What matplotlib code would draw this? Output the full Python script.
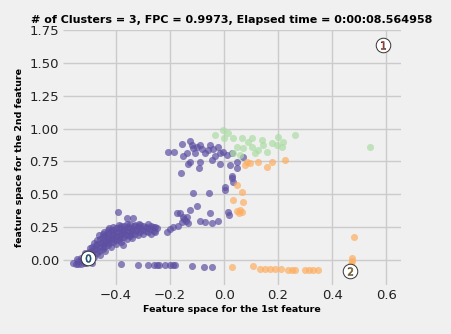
import matplotlib
matplotlib.use('Agg')
import matplotlib.pyplot as plt
import numpy as np

plt.style.use('fivethirtyeight')

# cluster 0 (purple) - dense band + scattered points
c0_pts = [
    (-0.56, -0.02), (-0.55, -0.03), (-0.53, -0.03), (-0.51, -0.025), (-0.49, -0.02),
    (-0.54, -0.03), (-0.54, -0.01), (-0.545, 0.01),
    (-0.52, -0.02), (-0.525, 0.0), (-0.52, 0.03), (-0.515, 0.05),
    (-0.50, 0.0), (-0.505, 0.03), (-0.50, 0.06), (-0.495, 0.09),
    (-0.48, 0.02), (-0.485, 0.05), (-0.48, 0.08), (-0.475, 0.11), (-0.48, 0.13),
    (-0.46, 0.04), (-0.465, 0.07), (-0.46, 0.10), (-0.455, 0.13), (-0.46, 0.16), (-0.465, 0.19),
    (-0.44, 0.07), (-0.445, 0.10), (-0.44, 0.13), (-0.435, 0.16), (-0.44, 0.19), (-0.445, 0.21),
    (-0.42, 0.10), (-0.425, 0.13), (-0.42, 0.16), (-0.415, 0.19), (-0.42, 0.22), (-0.425, 0.24),
    (-0.40, 0.12), (-0.405, 0.15), (-0.40, 0.18), (-0.395, 0.21), (-0.40, 0.24),
    (-0.38, 0.14), (-0.385, 0.17), (-0.38, 0.20), (-0.375, 0.23), (-0.38, 0.26),
    (-0.36, 0.16), (-0.365, 0.19), (-0.36, 0.22), (-0.355, 0.25), (-0.36, 0.27),
    (-0.34, 0.17), (-0.345, 0.20), (-0.34, 0.23), (-0.335, 0.26),
    (-0.32, 0.19), (-0.325, 0.22), (-0.32, 0.25), (-0.315, 0.27),
    (-0.30, 0.20), (-0.305, 0.23), (-0.30, 0.26),
    (-0.28, 0.21), (-0.285, 0.24), (-0.28, 0.27),
    (-0.26, 0.22), (-0.265, 0.25),
    # in-between band points
    (-0.53, 0.015), (-0.51, 0.015), (-0.51, 0.045), (-0.49, 0.035), (-0.49, 0.065),
    (-0.49, 0.10), (-0.47, 0.055), (-0.47, 0.085), (-0.47, 0.12), (-0.47, 0.15),
    (-0.45, 0.085), (-0.45, 0.115), (-0.45, 0.145), (-0.45, 0.175), (-0.45, 0.20),
    (-0.43, 0.115), (-0.43, 0.145), (-0.43, 0.175), (-0.43, 0.205), (-0.43, 0.225),
    (-0.41, 0.135), (-0.41, 0.165), (-0.41, 0.195), (-0.41, 0.225), (-0.41, 0.25),
    (-0.39, 0.155), (-0.39, 0.185), (-0.39, 0.215), (-0.39, 0.245), (-0.39, 0.265),
    (-0.37, 0.175), (-0.37, 0.205), (-0.37, 0.235), (-0.37, 0.26),
    (-0.35, 0.185), (-0.35, 0.215), (-0.35, 0.245), (-0.35, 0.27),
    (-0.33, 0.20), (-0.33, 0.235), (-0.33, 0.265),
    (-0.31, 0.21), (-0.31, 0.24), (-0.31, 0.265),
    (-0.29, 0.22), (-0.29, 0.25), (-0.27, 0.235), (-0.27, 0.26), (-0.25, 0.24),
    # outliers near band
    (-0.393, 0.365), (-0.36, 0.32), (-0.337, 0.32), (-0.374, 0.114), (-0.27, 0.20),
    # bottom row
    (-0.38, -0.03), (-0.32, -0.035), (-0.28, -0.04), (-0.26, -0.04), (-0.25, -0.04),
    (-0.24, -0.04), (-0.22, -0.04), (-0.20, -0.04), (-0.19, -0.04), (-0.18, -0.04),
    (-0.12, -0.045), (-0.075, -0.05), (-0.045, -0.05),
    # rising middle part
    (-0.256, 0.251), (-0.256, 0.213), (-0.211, 0.213), (-0.20, 0.236), (-0.189, 0.251),
    (-0.174, 0.358), (-0.163, 0.358), (-0.152, 0.327), (-0.155, 0.289), (-0.137, 0.327),
    (-0.133, 0.282), (-0.126, 0.38), (-0.10, 0.41), (-0.115, 0.51), (-0.056, 0.51),
    (-0.052, 0.358), (-0.089, 0.297), (-0.07, 0.289), (-0.044, 0.282), (-0.022, 0.297),
    (0.004, 0.556), (0.004, 0.53), (0.015, 0.365), (0.018, 0.345), (0.033, 0.594),
    (-0.14, 0.30), (-0.17, 0.26), (-0.15, 0.31),
    # upper group
    (-0.207, 0.822), (-0.185, 0.822), (-0.156, 0.883), (-0.126, 0.906), (-0.119, 0.875),
    (-0.115, 0.852), (-0.137, 0.814), (-0.152, 0.792), (-0.107, 0.814), (-0.089, 0.875),
    (-0.081, 0.845), (-0.07, 0.814), (-0.052, 0.875), (-0.041, 0.845), (-0.022, 0.86),
    (-0.015, 0.814), (-0.004, 0.822), (0.011, 0.799), (0.03, 0.814), (-0.033, 0.792),
    (-0.044, 0.761), (-0.089, 0.746), (-0.126, 0.746), (-0.133, 0.731), (-0.015, 0.731),
    (0.022, 0.723), (-0.093, 0.70), (0.048, 0.746), (0.048, 0.70), (-0.159, 0.662),
    (0.03, 0.624), (0.07, 0.784), (0.03, 0.64), (-0.06, 0.84), (-0.10, 0.86),
]

# cluster 1 (light green)
c1_pts = [
    (-0.033, 0.951), (-0.004, 0.989), (0.015, 0.966), (0.033, 0.928), (0.067, 0.928),
    (0.104, 0.928), (0.141, 0.913), (0.20, 0.936), (0.219, 0.898), (0.263, 0.951),
    (0.048, 0.86), (0.07, 0.852), (0.104, 0.86), (0.126, 0.837), (0.144, 0.875),
    (0.178, 0.89), (0.196, 0.875), (0.215, 0.86), (0.159, 0.822), (0.059, 0.799),
    (0.115, 0.814), (0.033, 0.814), (0.54, 0.86), (0.0, 0.93), (0.09, 0.90),
]

# cluster 2 (orange)
c2_pts = [
    (0.085, 0.746), (0.096, 0.738), (0.126, 0.746), (0.178, 0.746), (0.159, 0.708),
    (0.226, 0.761), (0.078, 0.723), (0.048, 0.571), (0.067, 0.518), (0.033, 0.457),
    (0.07, 0.441), (0.059, 0.38), (0.067, 0.365), (0.048, 0.37), (0.055, 0.36),
    (0.03, -0.053), (0.107, -0.046), (0.133, -0.068), (0.15, -0.07), (0.17, -0.07),
    (0.19, -0.07), (0.21, -0.07), (0.237, -0.075), (0.25, -0.075), (0.263, -0.075),
    (0.30, -0.08), (0.315, -0.08), (0.33, -0.08), (0.348, -0.08),
    (0.474, 0.015), (0.472, -0.01), (0.47, -0.03), (0.481, 0.175), (0.46, -0.09),
]

centers_x = [-0.504, 0.589, 0.467]
centers_y = [0.015, 1.636, -0.084]
center_labels = ['0', '1', '2']

cluster_colors = ['#5e4fa2', '#abdda4', '#fdae61']
digit_colors = ['#008fd5', '#fc4f30', '#e5ae38']

fig = plt.figure(figsize=(4.51, 3.34), dpi=100)
fig.patch.set_facecolor('#f0f0f0')
ax = fig.add_axes([0.14, 0.147, 0.749, 0.763])
ax.set_facecolor('#f0f0f0')

for pts, col in zip([c0_pts, c1_pts, c2_pts], cluster_colors):
    arr = np.array(pts)
    ax.scatter(arr[:, 0], arr[:, 1], s=26, c=col, alpha=0.7, lw=0, zorder=2)

ax.scatter(centers_x, centers_y, marker='o', c='white', s=110, alpha=1,
           edgecolor='#333333', linewidths=0.7, zorder=3)
for i in range(len(centers_x)):
    ax.scatter(centers_x[i], centers_y[i], marker='$%s$' % center_labels[i], s=32,
               c=digit_colors[i], edgecolor='k', linewidths=0.3, alpha=1, zorder=4)

ax.set_xlim(-0.596, 0.655)
ax.set_ylim(-0.19, 1.75)
ax.set_xticks([-0.4, -0.2, 0.0, 0.2, 0.4, 0.6])
ax.set_yticks([0.0, 0.25, 0.5, 0.75, 1.0, 1.25, 1.5, 1.75])
ax.set_yticklabels(['0.00', '0.25', '0.50', '0.75', '1.00', '1.25', '1.50', '1.75'])
ax.tick_params(labelsize=9.5, colors='#222222', length=0, pad=3)
ax.grid(True, color='#cbcbcb', lw=1)
for s in ax.spines.values():
    s.set_visible(False)

ax.set_title('# of Clusters = 3, FPC = 0.9973, Elapsed time = 0:00:08.564958',
             fontsize=8, fontweight='bold', pad=5)
ax.set_xlabel('Feature space for the 1st feature', fontsize=6.8, fontweight='bold', labelpad=2)
ax.set_ylabel('feature space for the 2nd feature', fontsize=6.8, fontweight='bold', labelpad=4)

fig.savefig('out.png', dpi=100, facecolor='#f0f0f0')
